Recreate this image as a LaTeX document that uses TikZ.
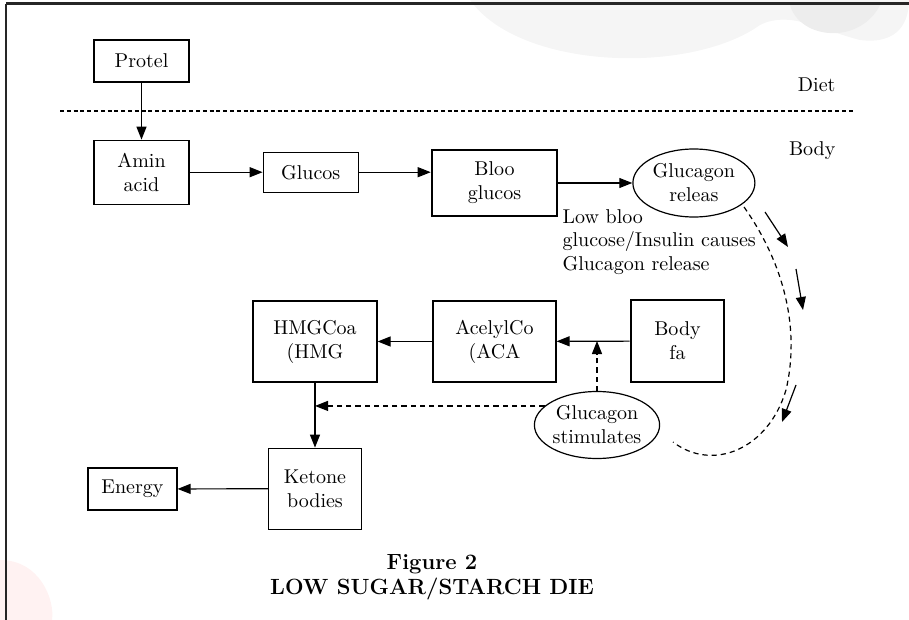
\documentclass[tikz,border=0pt]{standalone}
\usepackage{tikz}
\usetikzlibrary{positioning,arrows.meta,shapes.geometric}

\begin{document}
\begin{tikzpicture}[x=0.5pt, y=-0.5pt, ->, >={Triangle[length=6.5pt,width=5pt]}, line width=0.6pt,
		box/.style={draw, rectangle, align=center, inner sep=2pt},
		thickbox/.style={box, line width=1.3pt},
		blob/.style={draw, ellipse, align=center, inner sep=0pt},
		dashline/.style={dashed, dash pattern=on 2.6pt off 2pt}]
			\useasboundingbox (0,0) rectangle (909,620);

			% page decoration
			\fill[gray!8] (470,0) .. controls (520,70) and (690,75) .. (760,25) .. controls (790,10) and (820,30) .. (860,40) .. controls (900,45) and (909,20) .. (909,0) -- cycle;
			\fill[gray!14] (790,5) .. controls (800,40) and (860,45) .. (880,5) -- cycle;
			\fill[red!5] (0,560) .. controls (40,560) and (55,600) .. (52,620) -- (0,620) -- cycle;
			\draw[-, line width=1.5pt, black!85] (6,4) -- (909,4);
			\draw[-, line width=1.1pt, black!85] (6,4) -- (6,620);

			\node[box, minimum width=47.5pt, minimum height=21pt] (protel) at (141.5,61) {Protel};
			\node[box, minimum width=47.5pt, minimum height=32pt] (amin) [below=28.5pt of protel] {Amin\\acid};
			\node[box, minimum width=47.5pt, minimum height=20pt] (glucos) [right=36.5pt of amin] {Glucos};
			\node[thickbox, minimum width=62.5pt, minimum height=33pt] (bloo) at (494.5,183) {Bloo\\glucos};
			\node[blob, minimum width=61pt, minimum height=34pt] (release) [right=37pt of bloo] {Glucagon\\releas};

			\node[thickbox, minimum width=46.5pt, minimum height=41pt] (bodyfa) at (677.5,341) {Body\\fa};
			\node[box, minimum width=61.5pt, minimum height=40.5pt] (acelyl) at (494.5,341.5) {AcelylCo\\(ACA};
			\node[box, minimum width=62pt, minimum height=40.5pt] (hmg) at (315,341.5) {HMGCoa\\(HMG};
			\node[box, minimum width=46.5pt, minimum height=40.5pt] (ketone) [below=32.5pt of hmg] {Ketone\\bodies};
			\node[box, minimum width=44.5pt, minimum height=21pt] (energy) at (132.5,489) {Energy};
			\node[blob, minimum width=61.5pt, minimum height=33.5pt] (stim) at (597,425) {Glucagon\\stimulates};

			\node[anchor=east, inner sep=0pt] (diet) at (836,85) {Diet};
			\node[anchor=east, inner sep=0pt] (body) at (836,151) {Body};
			\node[align=left, anchor=west, inner sep=0pt, font=\fontsize{10}{11.75}\selectfont] (lowtxt) at (562,242) {Low bloo\\glucose/Insulin causes\\Glucagon release};

			\node[align=center, inner sep=0pt, font=\fontsize{11}{12.5}\selectfont\bfseries] (title) at (432,577) {Figure 2\\LOW SUGAR/STARCH DIE};

			% diet / body border
			\draw[-, line width=1.3pt, dash pattern=on 2pt off 1.4pt] (60,111) -- (855,111);

			\path
			(protel) edge (amin)
			(amin) edge (glucos)
			(glucos) edge (glucos -| bloo.west)
			(bloo) edge (release)
			(bodyfa) edge (acelyl)
			(acelyl) edge (hmg)
			(hmg) edge (ketone)
			(ketone) edge (energy);

			\draw[dashline] (stim.north) -- (stim.north |- bodyfa.west);
			\draw[dashline] (stim.160) -- (stim.160 -| hmg);

			\coordinate (arcstart) at (744,207);
			\coordinate (arcend) at (673,442);
			\draw[dashline, -] (arcstart) .. controls (785,265) and (800,330) .. (786,390) .. controls (768,450) and (712,472) .. (arcend);
			\foreach \x/\y/\u/\v in {765/212/788/247, 796/269/803/310, 796/385/782/422}
				\draw (\x,\y) -- (\u,\v);

		\end{tikzpicture}
\end{document}
